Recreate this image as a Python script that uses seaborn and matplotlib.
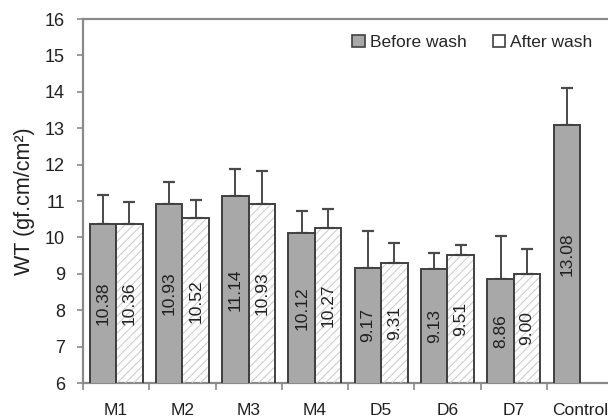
import numpy as np
import pandas as pd
import matplotlib
matplotlib.use("Agg")
import matplotlib.pyplot as plt
from matplotlib.patches import Rectangle
from matplotlib.ticker import MultipleLocator
import seaborn as sns

# values
samples = ["M1", "M2", "M3", "M4", "D5", "D6", "D7", "Control"]
before = [10.38, 10.93, 11.14, 10.12, 9.17, 9.13, 8.86, 13.08]
before_err = [0.78, 0.59, 0.74, 0.61, 1.01, 0.44, 1.19, 1.02]
after = [10.36, 10.52, 10.93, 10.27, 9.31, 9.51, 9.00]   # no control after wash
after_err = [0.61, 0.51, 0.89, 0.51, 0.54, 0.27, 0.68]

df = pd.DataFrame({
    "sample": samples + samples[:len(after)],
    "wt": before + after,
    "wash": ["Before wash"] * len(before) + ["After wash"] * len(after),
})

sns.set_style("ticks")
plt.rcParams["font.family"] = ["Liberation Sans", "DejaVu Sans"]

edge = "#404040"
spine = "#8a8a8a"
txt = "#202020"

fig = plt.figure(figsize=(6.08, 4.18), dpi=100)
ax = fig.add_axes([0.1365, 0.0837, 0.872, 0.8708])

sns.barplot(data=df, x="sample", y="wt", hue="wash", order=samples,
            hue_order=["Before wash", "After wash"],
            palette={"Before wash": "#a8a8a8", "After wash": "white"},
            width=0.8, edgecolor=edge, linewidth=1.4, errorbar=None,
            ax=ax, zorder=3)

bars_before, bars_after = ax.containers[0], ax.containers[1]

# hatch on the after-wash bars (light grey, separate from dark outline)
plt.rcParams["hatch.linewidth"] = 0.7
for p in bars_after:
    ax.add_patch(Rectangle((p.get_x(), p.get_y()), p.get_width(), p.get_height(),
                           fill=False, hatch="////", edgecolor="#c8c8c8",
                           lw=0, zorder=3.5))
    p.set_zorder(4)
    p.set_facecolor("none")

# upper-only error bars
for bars, errs in [(bars_before, before_err), (bars_after, after_err)]:
    xs = [p.get_x() + p.get_width() / 2 for p in bars]
    ys = [p.get_height() + p.get_y() for p in bars]
    ax.errorbar(xs, ys, yerr=[np.zeros(len(errs)), errs], fmt="none",
                ecolor="#4a4a4a", elinewidth=1.4, capsize=4.5, capthick=1.6,
                zorder=2)

# values written inside the bars
ax.bar_label(bars_before, labels=[f"{v:.2f}" for v in before],
             label_type="center", rotation=90, fontsize=12.5, color=txt)
ax.bar_label(bars_after, labels=[f"{v:.2f}" for v in after],
             label_type="center", rotation=90, fontsize=12.5, color=txt,
             zorder=6)

ax.set_ylim(6, 16)
ax.set_xlim(-0.5, len(samples) - 0.5)
ax.yaxis.set_major_locator(MultipleLocator(1))
ax.set_xlabel("")
ax.set_ylabel("WT (gf.cm/cm²)", fontsize=15.5, color=txt, labelpad=7)

ax.tick_params(axis="y", labelsize=13, colors=spine, labelcolor=txt,
               length=4, width=1.2, pad=9)
ax.tick_params(axis="x", which="major", labelsize=12.5, labelcolor=txt,
               length=0, pad=14.5)
ax.set_xticks(np.arange(len(samples)) - 0.5, minor=True)
ax.tick_params(axis="x", which="minor", length=5, width=1.2, colors=spine)

for side in ["left", "bottom", "top", "right"]:
    ax.spines[side].set_color(spine)
    ax.spines[side].set_linewidth(1.6)

leg = ax.legend(loc="upper right", bbox_to_anchor=(0.99, 1.0), ncol=2,
                frameon=False, fontsize=12.5, handlelength=0.7,
                handleheight=0.7, handletextpad=0.3, columnspacing=1.5)
for h in leg.legend_handles:
    h.set_edgecolor(edge)
    h.set_linewidth(1.2)

fig.savefig("out.png", dpi=100)
